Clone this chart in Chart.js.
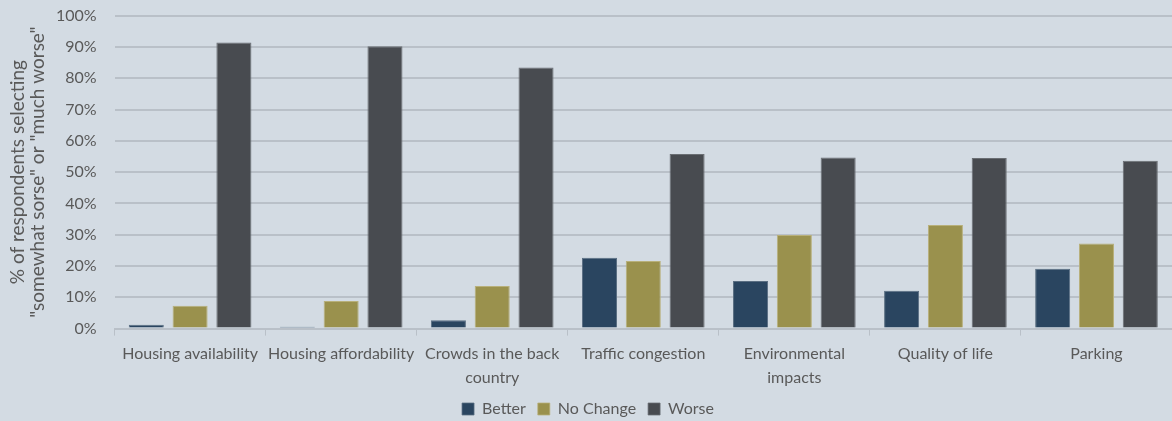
<!DOCTYPE html>
<html>
<head>
<meta charset="utf-8">
<script src="https://cdn.jsdelivr.net/npm/chart.js@4/dist/chart.umd.min.js"></script>
<style>
html,body{margin:0;padding:0;background:#d3dbe3;height:421px;overflow:hidden;}
#wrap{width:1172px;height:427px;position:relative;}
</style>
</head>
<body>
<div id="wrap"><canvas id="chart"></canvas></div>
<script>
const categories=[
    'Housing availability',
    'Housing affordability',
    ['Crowds in the back','country'],
    'Traffic congestion',
    ['Environmental','impacts'],
    'Quality of life',
    'Parking'
];
const better=[1.2,0.6,2.7,22.6,15.2,12.1,19.1];
const noChange=[7.3,8.8,13.6,21.6,29.9,33.1,27.2];
const worse=[91.4,90.2,83.4,55.8,54.7,54.5,53.6];
const yTicks=[0,10,20,30,40,50,60,70,80,90,100];

const font="Lato, 'Open Sans', sans-serif";
const textCol='#595959';

new Chart(document.getElementById('chart'),{
    type:'bar',
    data:{
        labels:categories,
        datasets:[
            {label:'Better',data:better,backgroundColor:'#2a4560',borderColor:'#5a6e82',borderWidth:{top:1,left:1,right:1,bottom:0}},
            {label:'No Change',data:noChange,backgroundColor:'#9a914d',borderColor:'#b8b07a',borderWidth:{top:1,left:1,right:1,bottom:0}},
            {label:'Worse',data:worse,backgroundColor:'#484b50',borderColor:'#6a6e73',borderWidth:{top:1,left:1,right:1,bottom:0}}
        ]
    },
    options:{
        responsive:true,
        maintainAspectRatio:false,
        animation:false,
        layout:{padding:{top:1,right:0,left:4,bottom:0}},
        categoryPercentage:0.87,
        barPercentage:0.8,
        plugins:{
            legend:{
                position:'bottom',
                labels:{boxWidth:12,boxHeight:12,color:textCol,font:{family:font,size:16},padding:12}
            },
            tooltip:{enabled:false}
        },
        scales:{
            x:{
                afterFit:s=>{s.height-=7;},
                grid:{display:true,drawOnChartArea:false,drawTicks:true,tickLength:7,color:'#b9c0c8',offset:true},
                border:{color:'#b9c0c8',width:2},
                ticks:{color:textCol,font:{family:font,size:16,lineHeight:1.45},maxRotation:0,autoSkip:false,padding:7}
            },
            y:{
                min:0,max:100,
                afterBuildTicks:axis=>{axis.ticks=yTicks.map(v=>({value:v}));},
                grid:{color:'#b9c0c8',lineWidth:2,drawTicks:true,tickLength:12,tickColor:'transparent'},
                border:{display:false},
                ticks:{color:textCol,font:{family:font,size:16},padding:6,callback:v=>v+'%'},
                title:{display:true,text:['% of respondents selecting','"somewhat sorse" or "much worse"'],color:textCol,font:{family:font,size:19,lineHeight:1.05},padding:{top:4,bottom:2}}
            }
        }
    }
});
</script>
</body>
</html>
